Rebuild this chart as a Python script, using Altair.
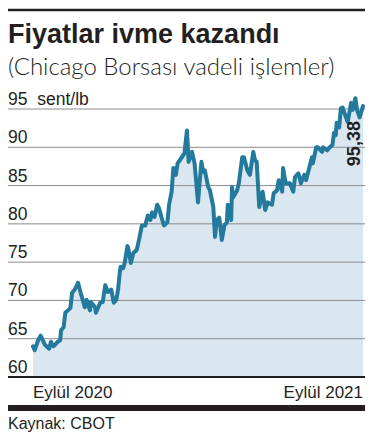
import altair as alt
import pandas as pd

# ---- data ----
days = [0, 2, 6, 9, 14, 19, 21, 24, 26, 29,
        32, 33, 36, 38, 41, 44, 46, 49, 53, 56,
        61, 63, 67, 68, 73, 74, 79, 82, 85, 88,
        92, 95, 98, 100, 102, 103, 106, 108, 111, 112,
        115, 118, 122, 125, 128, 132, 135, 138, 140, 143,
        146, 148, 152, 154, 158, 160, 163, 165, 168, 170,
        175, 178, 181, 183, 187, 190, 194, 198, 200, 202,
        206, 208, 212, 214, 216, 219, 222, 225, 228, 229,
        233, 234, 235, 240, 242, 246, 248, 252, 255, 259,
        261, 263, 266, 270, 273, 276, 281, 283, 287, 289,
        293, 294, 297, 302, 306, 308, 312, 315, 319, 321,
        325, 328, 329, 333, 335, 340, 341, 346, 348, 352,
        354, 356, 357, 360, 362, 364, 368, 370, 374, 376,
        379, 381, 384, 388]
prices = [64.0, 63.5, 64.8, 65.4, 64.2, 63.7, 64.6, 64.0, 64.2, 64.6,
          64.8, 66.1, 66.5, 68.4, 68.7, 69.0, 71.0, 71.4, 72.3, 71.0,
          69.1, 70.1, 68.7, 69.8, 69.1, 68.4, 69.7, 69.8, 72.0, 71.1,
          71.4, 69.7, 70.1, 71.4, 73.6, 74.4, 74.2, 75.0, 77.1, 76.8,
          74.9, 76.2, 76.6, 78.1, 79.8, 79.8, 81.1, 80.5, 81.5, 80.9,
          82.5, 82.1, 80.5, 79.8, 80.2, 82.5, 84.2, 87.3, 86.4, 87.9,
          88.7, 89.2, 92.2, 88.1, 89.4, 87.9, 82.8, 88.1, 86.8, 87.0,
          84.8, 84.4, 82.2, 78.3, 80.5, 80.8, 77.9, 79.8, 80.2, 82.5,
          80.5, 84.8, 83.4, 84.4, 85.3, 88.7, 88.7, 87.0, 86.4, 89.4,
          88.3, 88.1, 82.2, 84.2, 81.8, 82.8, 82.5, 84.0, 84.4, 85.7,
          84.2, 87.3, 85.3, 85.3, 84.2, 86.1, 86.6, 85.3, 86.4, 85.7,
          87.4, 88.7, 87.9, 90.0, 90.0, 89.4, 90.0, 89.6, 89.9, 90.3,
          91.9, 91.6, 93.2, 92.6, 95.1, 95.2, 93.9, 93.3, 95.8, 94.9,
          96.4, 94.9, 93.9, 95.38]

grid_values = [65, 70, 75, 80, 85, 90, 95]
tick_values = [60, 65, 70, 75, 80, 85, 90, 95]
tick_labels = ["60", "65", "70", "75", "80", "85", "90", "95\u00a0\u00a0sent/lb"]
x_label_days = [0, 388]
x_labels = ["Eylül 2020", "Eylül 2021"]
last_label = "95,38"
title_text = "Fiyatlar ivme kazandı"
subtitle_text = "(Chicago Borsası vadeli işlemler)"
source_text = "Kaynak: CBOT"

# ---- style ----
TXT = "#231f20"
LINE = "#237a9c"
FILL = "#dae6f0"
GRID = "#8c8c8c"
SANS = "Liberation Sans"
LIGHT = "Lato"

X0, X1 = -25, 332  # horizontal extent of rules (view px)

xs = alt.Scale(domain=[0, 388], nice=False, zero=False)
ys = alt.Scale(domain=[60, 95], nice=False, zero=False)

df = pd.DataFrame({"day": days, "price": prices})

area = alt.Chart(df).mark_area(color=FILL, opacity=1).encode(
    x=alt.X("day:Q", scale=xs, axis=None),
    y=alt.Y("price:Q", scale=ys, axis=None),
    y2=alt.datum(60),
)

grid = alt.Chart(pd.DataFrame({"v": grid_values})).mark_rule(
    color=GRID, strokeWidth=1
).encode(
    y=alt.Y("v:Q", scale=ys, axis=None),
    x=alt.value(X0), x2=alt.value(X1),
)

base_rule = alt.Chart(pd.DataFrame({"v": [60]})).mark_rule(
    color=TXT, strokeWidth=2
).encode(
    y=alt.Y("v:Q", scale=ys, axis=None),
    x=alt.value(X0), x2=alt.value(X1),
)

line = alt.Chart(df).mark_line(
    color=LINE, strokeWidth=4, strokeJoin="round", strokeCap="round"
).encode(
    x=alt.X("day:Q", scale=xs, axis=None),
    y=alt.Y("price:Q", scale=ys, axis=None),
)

ylab = alt.Chart(pd.DataFrame({"v": tick_values, "t": tick_labels})).mark_text(
    align="left", baseline="alphabetic", dy=-4, font=SANS, fontSize=17.5, color=TXT
).encode(
    y=alt.Y("v:Q", scale=ys, axis=None),
    x=alt.value(X0),
    text="t:N",
)

xlab_df = pd.DataFrame({"d": x_label_days, "t": x_labels})
xlab_l = alt.Chart(xlab_df.iloc[:1]).mark_text(
    align="left", baseline="alphabetic", font=SANS, fontSize=17, color=TXT
).encode(x=alt.X("d:Q", scale=xs, axis=None), y=alt.value(289), text="t:N")
xlab_r = alt.Chart(xlab_df.iloc[1:]).mark_text(
    align="right", baseline="alphabetic", font=SANS, fontSize=17, color=TXT
).encode(x=alt.X("d:Q", scale=xs, axis=None), y=alt.value(289), text="t:N")

last_df = pd.DataFrame({"d": [days[-1]], "p": [prices[-1]], "t": [last_label]})
last = alt.Chart(last_df).mark_text(
    angle=270, align="right", baseline="alphabetic", dx=-15, dy=-3,
    font=SANS, fontSize=18, fontWeight="bold", color=TXT
).encode(
    x=alt.X("d:Q", scale=xs, axis=None),
    y=alt.Y("p:Q", scale=ys, axis=None),
    text="t:N",
)

top_line = alt.Chart(pd.DataFrame({"k": [0]})).mark_rule(
    color=TXT, strokeWidth=2.5
).encode(x=alt.value(X0), x2=alt.value(X1), y=alt.value(-99))

bottom_bar = alt.Chart(pd.DataFrame({"k": [0]})).mark_rule(
    color=TXT, strokeWidth=6
).encode(x=alt.value(X0), x2=alt.value(X1), y=alt.value(299))

title = alt.Chart(pd.DataFrame({"t": [title_text]})).mark_text(
    align="left", baseline="alphabetic", font=SANS, fontSize=27,
    fontWeight="bold", color=TXT
).encode(x=alt.value(X0), y=alt.value(-66), text="t:N")

subtitle = alt.Chart(pd.DataFrame({"t": [subtitle_text]})).mark_text(
    align="left", baseline="alphabetic", font=LIGHT, fontSize=24,
    fontWeight=300, color=TXT
).encode(x=alt.value(X0), y=alt.value(-34), text="t:N")

source = alt.Chart(pd.DataFrame({"t": [source_text]})).mark_text(
    align="left", baseline="alphabetic", font=SANS, fontSize=16, color=TXT
).encode(x=alt.value(X0), y=alt.value(320), text="t:N")

chart = alt.layer(
    area, grid, base_rule, line, ylab, xlab_l, xlab_r, last,
    top_line, bottom_bar, title, subtitle, source
).properties(
    width=330, height=268,
    padding={"left": 25, "top": 101, "right": 2, "bottom": 56},
    autosize=alt.AutoSizeParams(type="none"),
    background="white",
).configure_view(stroke=None)

chart.save("out.html", embed_options={"renderer": "svg", "actions": False})
